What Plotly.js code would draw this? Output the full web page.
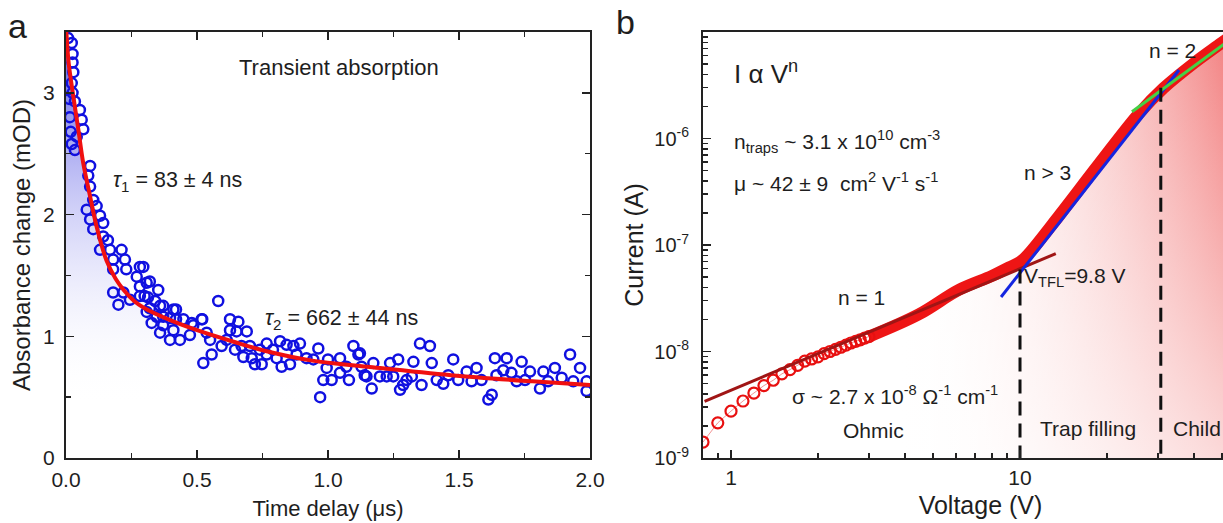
<!DOCTYPE html>
<html>
<head>
<meta charset="utf-8">
<script src="https://cdn.plot.ly/plotly-3.0.1.min.js"></script>
<style>
html,body{margin:0;padding:0;overflow:hidden;background:#fff;}
#plot{width:1258px;height:523px;}
</style>
</head>
<body>
<div id="plot"></div>
<script>
// ---------- Panel a: transient absorption ----------
const taTime = [0.008,0.012,0.015,0.018,0.022,0.025,0.025,0.028,0.022,0.025,0.034,0.053,0.060,0.066,0.041,0.022,0.034,0.092,0.085,0.092,0.104,0.079,0.117,0.092,0.130,0.104,0.142,0.142,0.160,0.130,0.168,0.212,0.180,0.225,0.282,0.180,0.230,0.270,0.180,0.219,0.282,0.308,0.200,0.244,0.282,0.313,0.320,0.359,0.371,0.410,0.420,0.480,0.520,
0.295,0.320,0.352,0.300,0.340,0.371,0.420,0.308,0.346,0.397,0.448,0.486,0.518,0.327,0.371,0.410,0.435,0.473,0.537,0.359,0.397,0.581,0.550,0.524,0.556,0.594,0.626,0.658,0.626,0.651,0.690,0.613,0.645,0.670,0.702,0.677,0.709,0.721,0.747,0.740,0.766,0.766,0.790,0.817,0.804,0.842,0.855,0.823,0.868,0.893,0.880,0.918,0.944,0.963,0.995,1.000,0.982,1.014,0.970,1.046,1.070,1.080,1.097,1.116,1.046,1.128,1.147,
1.122,1.140,1.167,1.173,1.198,1.224,1.237,1.268,1.249,1.275,1.287,1.300,1.320,1.326,1.351,1.389,1.357,1.396,1.415,1.440,1.459,1.478,1.497,1.529,1.567,1.548,1.586,1.612,1.625,1.637,1.643,1.682,1.669,1.700,1.720,1.739,1.752,1.771,1.809,1.822,1.840,1.866,1.892,1.924,1.936,1.962,1.987,1.987];
const taAbs = [3.45,2.95,2.80,2.68,3.41,3.32,3.25,3.17,3.08,3.00,2.93,2.86,2.78,2.70,2.64,2.58,2.53,2.40,2.32,2.23,2.12,2.04,2.07,1.96,1.99,1.88,1.93,1.82,1.79,1.71,1.71,1.71,1.63,1.63,1.57,1.55,1.55,1.49,1.36,1.36,1.41,1.44,1.26,1.30,1.33,1.32,1.23,1.25,1.16,1.22,1.14,1.11,1.14,
1.57,1.45,1.38,1.33,1.29,1.25,1.22,1.20,1.16,1.15,1.14,1.09,1.14,1.11,1.09,1.05,0.97,1.01,1.03,1.03,0.97,1.29,0.97,0.78,0.85,0.92,1.14,1.12,1.05,1.04,1.04,0.97,0.89,0.92,0.92,0.83,0.82,0.77,0.77,0.89,0.94,0.85,0.89,0.96,0.82,0.93,0.77,0.75,0.92,0.94,0.85,0.82,0.81,0.90,0.74,0.81,0.64,0.64,0.50,0.82,0.75,0.64,0.92,0.85,0.70,0.75,0.67,
0.86,0.68,0.57,0.78,0.67,0.67,0.78,0.81,0.67,0.56,0.60,0.64,0.67,0.79,0.94,0.92,0.60,0.78,0.64,0.61,0.68,0.81,0.64,0.71,0.74,0.63,0.64,0.48,0.52,0.82,0.68,0.82,0.72,0.70,0.63,0.79,0.64,0.71,0.57,0.71,0.63,0.74,0.66,0.85,0.63,0.74,0.63,0.55];
const fitTime = [0,0.01,0.028,0.047,0.066,0.092,0.117,0.155,0.19,0.22,0.26,0.30,0.40,0.50,0.64,0.77,0.94,1.15,1.47,1.78,2.0];
const fitAbs  = [3.55,3.25,2.97,2.70,2.42,2.15,1.90,1.62,1.47,1.38,1.29,1.23,1.13,1.05,0.955,0.875,0.80,0.75,0.68,0.63,0.60];

// ---------- Panel b: I-V curve ----------
const ivV = [0.8,0.9,1.0,1.1,1.2,1.3,1.4,1.5,1.6,1.7,1.8,1.9,2.0,2.1,2.2,2.3,2.4,2.5,2.6,2.7,2.8,2.9,3.0];
const ivLogI = [-8.85,-8.67,-8.56,-8.465,-8.39,-8.32,-8.27,-8.21,-8.17,-8.13,-8.09,-8.07,-8.05,-8.02,-8.0,-7.98,-7.96,-7.94,-7.92,-7.905,-7.89,-7.875,-7.86];
const bandV = [3.0,4.47,6.15,8.0,9.16,10.0,10.7,13.7,18.7,25.8,31.3,40.1,50.0,66.0];
const bandLogI = [-7.86,-7.65,-7.42,-7.29,-7.21,-7.16,-7.085,-6.72,-6.244,-5.765,-5.53,-5.29,-5.10,-4.86];
const ohmFitV = [0.81,13.3];     const ohmFitI = [3.4e-9,8.3e-8];
const tflFitV = [8.6,35.5];      const tflFitI = [3.25e-8,4.4e-6];
const childFitV = [24.4,66.0];   const childFitI = [1.78e-6,1.3e-5];
const vTFL = 10.0;  const vTFLtop = 5.9e-8;
const vChild = 30.7; const vChildTop = 3.0e-6;

const ivI = ivLogI.map(v => Math.pow(10, v));
const bandI = bandLogI.map(v => Math.pow(10, v));
const baseV = [0.8, 66.0]; const baseI = [1e-9, 1e-9];

const W = 1258, H = 523;
const FONT = 'Liberation Sans, Arial, sans-serif';
const ydom = [(H-458)/H, (H-32)/H];
const axA = [66/W, 590/W];
const axB = [703/W, 1];
const TXT = '#1e1e1e';

const traces = [
  // panel a fill
  {x: fitTime, y: fitAbs, xaxis:'x', yaxis:'y', mode:'lines', line:{width:0, shape:'spline'}, fill:'tozeroy',
   fillgradient:{type:'vertical', colorscale:[[0,'rgba(255,255,255,0)'],[0.12,'rgba(255,255,255,0)'],[1,'rgba(70,70,225,0.95)']]},
   hoverinfo:'skip', showlegend:false},
  {x: taTime, y: taAbs, xaxis:'x', yaxis:'y', mode:'markers',
   marker:{symbol:'circle-open', size:10, color:'#1010e0', line:{width:2.5, color:'#1010e0'}}, showlegend:false},
  {x: fitTime, y: fitAbs, xaxis:'x', yaxis:'y', mode:'lines', line:{color:'#f01010', width:4, shape:'spline'}, showlegend:false},
  // panel b fills
  {x: baseV, y: baseI, xaxis:'x2', yaxis:'y2', mode:'lines', line:{width:0}, hoverinfo:'skip', showlegend:false},
  {x: ivV.concat(bandV.slice(1)), y: ivI.concat(bandI.slice(1)), xaxis:'x2', yaxis:'y2', mode:'lines', line:{width:0, shape:'spline'}, fill:'tonexty',
   fillgradient:{type:'horizontal', colorscale:[[0,'rgba(255,255,255,0)'],[0.35,'rgba(255,255,255,0)'],[1,'rgba(235,50,50,0.75)']]},
   hoverinfo:'skip', showlegend:false},
  {x: baseV, y: baseI, xaxis:'x2', yaxis:'y2', mode:'lines', line:{width:0}, hoverinfo:'skip', showlegend:false},
  {x: ivV.concat(bandV.slice(1)), y: ivI.concat(bandI.slice(1)), xaxis:'x2', yaxis:'y2', mode:'lines', line:{width:0, shape:'spline'}, fill:'tonexty',
   fillgradient:{type:'vertical', colorscale:[[0,'rgba(255,255,255,0.7)'],[1,'rgba(255,255,255,0)']]},
   hoverinfo:'skip', showlegend:false},
  // band (dense data)
  {x: bandV, y: bandI, xaxis:'x2', yaxis:'y2', mode:'lines', line:{color:'#ee1515', width:12, shape:'spline'}, showlegend:false},
  {x: ivV, y: ivI, xaxis:'x2', yaxis:'y2', mode:'lines+markers', line:{color:'rgba(230,40,40,0.5)', width:1},
   marker:{symbol:'circle-open', size:11, color:'#e81010', line:{width:2.2, color:'#e81010'}}, showlegend:false},
  {x: ohmFitV, y: ohmFitI, xaxis:'x2', yaxis:'y2', mode:'lines', line:{color:'#a01515', width:3}, showlegend:false},
  {x: tflFitV, y: tflFitI, xaxis:'x2', yaxis:'y2', mode:'lines', line:{color:'#1525e0', width:3}, showlegend:false},
  {x: childFitV, y: childFitI, xaxis:'x2', yaxis:'y2', mode:'lines', line:{color:'#45d045', width:3}, showlegend:false},
  {x: [vTFL, vTFL], y: [vTFLtop, 1e-9], xaxis:'x2', yaxis:'y2', mode:'lines', line:{color:'#111', width:3, dash:'14px,8px'}, showlegend:false},
  {x: [vChild, vChild], y: [vChildTop, 1e-9], xaxis:'x2', yaxis:'y2', mode:'lines', line:{color:'#111', width:3, dash:'14px,8px'}, showlegend:false}
];

function minorLogVals(lo, hi){ const out=[]; for(let e=lo;e<hi;e++){for(let m=2;m<=9;m++){out.push(m*Math.pow(10,e));}} return out; }

const axCommon = {showline:true, linecolor:'#222', linewidth:2, ticks:'inside', tickcolor:'#222', tickwidth:1.5,
  showgrid:false, zeroline:false, tickfont:{family:FONT, size:21, color:TXT}, automargin:false};

const ann = (xref, yref, x, y, text, size) => ({xref, yref, x, y, xanchor:'left', yanchor:'middle', text, showarrow:false, font:{family:FONT, size, color:TXT}});

const layout = {
  width: W, height: H,
  margin:{l:0, r:0, t:0, b:0},
  paper_bgcolor:'#fff', plot_bgcolor:'rgba(0,0,0,0)',
  font:{family:FONT, color:TXT},
  xaxis: Object.assign({}, axCommon, {domain:axA, range:[0,2], dtick:0.5, tick0:0, tickformat:'.1f', ticklen:8, mirror:'allticks', ticklabelstandoff:2,
    minor:{dtick:0.25, ticks:'inside', ticklen:5, tickcolor:'#222'},
    title:{text:'Time delay (μs)', font:{family:FONT, size:22, color:TXT}, standoff:10}}),
  yaxis: Object.assign({}, axCommon, {domain:ydom, anchor:'x', range:[0,3.5], dtick:1, tick0:0, ticklen:8, mirror:'allticks', ticklabelstandoff:5,
    minor:{dtick:0.5, ticks:'inside', ticklen:5, tickcolor:'#222'},
    title:{text:'Absorbance change (mOD)', font:{family:FONT, size:24, color:TXT}, standoff:6}}),
  xaxis2: Object.assign({}, axCommon, {domain:axB, anchor:'y2', type:'log', range:[Math.log10(0.8), Math.log10(0.8)+555/289],
    tickvals:[1,10], ticktext:['1','10'], ticklen:8, mirror:true, tickfont:{family:FONT, size:21, color:TXT},
    minor:{tickvals: minorLogVals(-1,2).filter(v=>v>=0.8 && v<=66), ticks:'inside', ticklen:5, tickcolor:'#222'},
    title:{text:'Voltage (V)', font:{family:FONT, size:25, color:TXT}, standoff:8}}),
  yaxis2: Object.assign({}, axCommon, {domain:ydom, anchor:'x2', type:'log', range:[-9,-5],
    tickvals:[1e-9,1e-8,1e-7,1e-6], ticktext:['10<sup>-9</sup>','10<sup>-8</sup>','10<sup>-7</sup>','10<sup>-6</sup>'],
    ticklen:8, mirror:false, ticklabelstandoff:8, tickfont:{family:FONT, size:20, color:TXT},
    minor:{tickvals: minorLogVals(-9,-5), ticks:'inside', ticklen:5, tickcolor:'#222'},
    title:{text:'Current (A)', font:{family:FONT, size:25, color:TXT}, standoff:4}}),
  annotations: [
    ann('paper','paper', 6/W, (H-26)/H, 'a', 34),
    ann('paper','paper', 614/W, (H-22)/H, 'b', 34),
    ann('x','y', 0.653, 3.21, 'Transient absorption', 22),
    ann('x','y', 0.172, 2.27, '<i>τ</i><sub>1</sub> = 83 ± 4 ns', 21.5),
    ann('x','y', 0.752, 1.14, '<i>τ</i><sub>2</sub> = 662 ± 44 ns', 21.5),
    ann('x2','y2', 0.0035, -5.376, 'I α V<sup>n</sup>', 26),
    ann('x2','y2', 0.0035, -6.03, 'n<sub>traps</sub> ~ 3.1 x 10<sup>10</sup> cm<sup>-3</sup>', 21),
    ann('x2','y2', 0.0035, -6.41, 'μ ~ 42 ± 9  cm<sup>2</sup> V<sup>-1</sup> s<sup>-1</sup>', 21),
    ann('x2','y2', Math.log10(10.2), -6.32, 'n > 3', 21),
    ann('x2','y2', Math.log10(27.4), -5.17, 'n = 2', 21),
    ann('x2','y2', Math.log10(2.3), -7.49, 'n = 1', 21),
    ann('x2','y2', Math.log10(10.2), -7.30, 'V<sub>TFL</sub>=9.8 V', 21),
    ann('x2','y2', Math.log10(1.6), -8.41, 'σ ~ 2.7 x 10<sup>-8</sup> Ω<sup>-1</sup> cm<sup>-1</sup>', 21),
    ann('x2','y2', Math.log10(2.4), -8.74, 'Ohmic', 21),
    ann('x2','y2', Math.log10(11.5), -8.72, 'Trap filling', 21),
    ann('x2','y2', Math.log10(33.2), -8.72, 'Child', 21)
  ]
};

Plotly.newPlot('plot', traces, layout, {staticPlot:true, displayModeBar:false});
</script>
</body>
</html>
